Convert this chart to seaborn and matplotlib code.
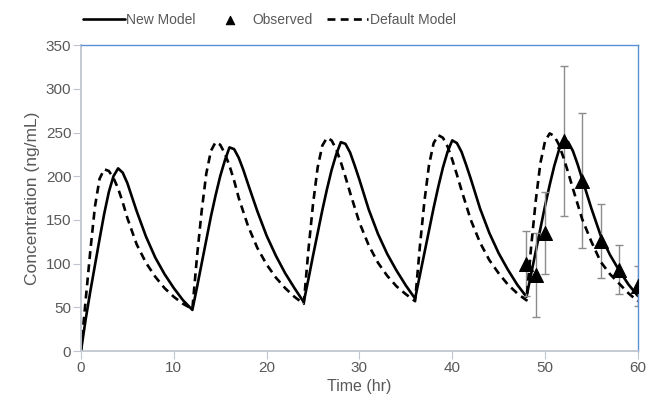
import matplotlib
matplotlib.use("Agg")
import matplotlib.pyplot as plt
import pandas as pd
import seaborn as sns

# Model curves (ng/mL)
new_time = [0, 0.5, 1, 1.5, 2, 2.5, 3, 3.5, 4, 4.5, 5, 5.5, 6, 7, 8, 9, 10, 11,
            12, 12.5, 13, 13.5, 14, 14.5, 15, 15.5, 16, 16.5, 17, 17.5, 18, 19, 20, 21, 22, 23,
            24, 24.5, 25, 25.5, 26, 26.5, 27, 27.5, 28, 28.5, 29, 29.5, 30, 31, 32, 33, 34, 35,
            36, 36.5, 37, 37.5, 38, 38.5, 39, 39.5, 40, 40.5, 41, 41.5, 42, 43, 44, 45, 46, 47,
            48, 48.5, 49, 49.5, 50, 50.5, 51, 51.5, 52, 52.5, 53, 53.5, 54, 55, 56, 57, 58, 59, 60]
new_conc = [0, 36, 68, 98, 128, 157, 182, 200, 209, 204, 192, 176, 160, 131, 107, 88, 72, 58,
            47, 73, 100, 127, 154, 178, 200, 218, 233, 231, 221, 207, 191, 160, 132, 109, 89, 72,
            56, 82, 109, 135, 161, 185, 207, 225, 239, 237, 227, 212, 196, 162, 134, 111, 92, 75,
            60, 86, 112, 138, 164, 188, 210, 228, 241, 238, 228, 213, 197, 163, 135, 112, 93, 76,
            62, 88, 114, 140, 166, 190, 212, 230, 242, 239, 229, 214, 197, 163, 132, 110, 92, 76, 63]

default_time = [0, 0.5, 1, 1.5, 2, 2.5, 3, 3.5, 4, 4.5, 5, 6, 7, 8, 9, 10, 11,
                12, 12.5, 13, 13.5, 14, 14.5, 15, 15.5, 16, 16.5, 17, 18, 19, 20, 21, 22, 23,
                24, 24.5, 25, 25.5, 26, 26.5, 27, 27.5, 28, 28.5, 29, 30, 31, 32, 33, 34, 35,
                36, 36.5, 37, 37.5, 38, 38.5, 39, 39.5, 40, 40.5, 41, 42, 43, 44, 45, 46, 47,
                48, 48.5, 49, 49.5, 50, 50.5, 51, 51.5, 52, 52.5, 53, 54, 55, 56, 57, 58, 59, 60]
default_conc = [0, 58, 114, 165, 197, 208, 206, 198, 186, 170, 152, 122, 101, 85, 72, 62, 54,
                48, 108, 160, 203, 229, 239, 236, 226, 212, 195, 175, 143, 118, 99, 84, 72, 62,
                54, 115, 168, 210, 235, 244, 241, 231, 216, 199, 181, 147, 121, 101, 86, 74, 65,
                57, 118, 171, 213, 238, 247, 244, 234, 219, 202, 184, 150, 124, 104, 89, 76, 66,
                58, 119, 172, 215, 240, 249, 246, 236, 221, 204, 186, 151, 125, 102, 88, 77, 66, 57]

# Observed data (mean +/- SD)
obs_time = [48, 49, 50, 52, 54, 56, 58, 60]
obs_conc = [100, 87, 135, 240, 195, 126, 93, 74]
obs_sd = [37, 48, 47, 86, 77, 42, 28, 23]

TEXT = "#595959"

sns.set_style("white")
plt.rcParams["font.family"] = ["Liberation Sans", "DejaVu Sans"]

fig = plt.figure(figsize=(6.49, 4.03), dpi=100)
ax = fig.add_axes([0.1248, 0.129, 0.858, 0.759])

new_df = pd.DataFrame({"time": new_time, "conc": new_conc})
def_df = pd.DataFrame({"time": default_time, "conc": default_conc})
obs_df = pd.DataFrame({"time": obs_time, "conc": obs_conc, "sd": obs_sd})

sns.lineplot(data=new_df, x="time", y="conc", color="black", lw=1.9,
             label="New Model", ax=ax, legend=False)
ax.errorbar(obs_df["time"], obs_df["conc"], yerr=obs_df["sd"], fmt="none",
            ecolor="#8c8c8c", elinewidth=1, capsize=3, capthick=1, zorder=2)
sns.scatterplot(data=obs_df, x="time", y="conc", marker="^", s=100, color="black",
                edgecolor="black", label="Observed", ax=ax, legend=False, zorder=4)
sns.lineplot(data=def_df, x="time", y="conc", color="black", lw=1.9,
             label="Default Model", ax=ax, legend=False)
ax.lines[-1].set_linestyle((0, (3, 2)))

ax.set_xlim(0, 60)
ax.set_ylim(0, 350)
ax.set_xticks(range(0, 61, 10))
ax.set_yticks(range(0, 351, 50))
ax.set_xlabel("Time (hr)", fontsize=11.5, color=TEXT, labelpad=3)
ax.set_ylabel("Concentration (ng/mL)", fontsize=12.5, color=TEXT, labelpad=4)
ax.tick_params(axis="both", labelsize=11, colors=TEXT, length=5.5, width=0.8,
               pad=1.5, direction="out", bottom=True, left=True)
ax.tick_params(axis="both", color="#c0c6cf")

for side in ["left", "bottom"]:
    ax.spines[side].set_color("#c0c6cf")
    ax.spines[side].set_linewidth(1.3)
for side in ["top", "right"]:
    ax.spines[side].set_color("#5b8fd6")
    ax.spines[side].set_linewidth(1.0)

handles, labels = ax.get_legend_handles_labels()
leg = fig.legend(handles, labels, loc="upper center", bbox_to_anchor=(0.415, 1.0),
                 ncol=3, frameon=False, fontsize=10, handlelength=3.0,
                 handletextpad=0.1, columnspacing=1.0, markerscale=0.6)
for t in leg.get_texts():
    t.set_color(TEXT)

fig.savefig("out.png", dpi=100)
